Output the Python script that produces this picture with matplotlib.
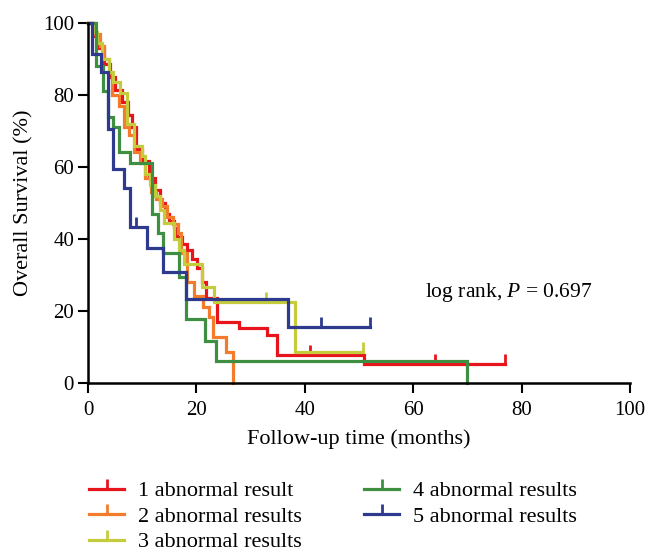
import matplotlib
matplotlib.use("Agg")
import matplotlib.pyplot as plt
from matplotlib.lines import Line2D

plt.rcParams['font.family'] = ['Liberation Serif', 'DejaVu Serif']
plt.rcParams['mathtext.fontset'] = 'custom'
plt.rcParams['mathtext.rm'] = 'Liberation Serif'
plt.rcParams['mathtext.it'] = 'Liberation Serif:italic'

# ---- data ----
labels = ["1 abnormal result", "2 abnormal results", "3 abnormal results",
          "4 abnormal results", "5 abnormal results"]
colors = ["#E8141C", "#F47B2B", "#C5CC3C", "#3F8F43", "#2E3A8E"]

red_t = [0, 1.0, 2.0, 3.0, 4.0, 5.0, 6.2, 7.4, 8.1, 8.8, 10.0, 11.2, 12.3, 13.3, 14.2,
         15.0, 15.8, 16.4, 17.3, 18.2, 19.2, 20.1, 21.0, 21.8, 23.8, 27.8, 33.0, 34.8, 51.0, 77.0]
red_s = [100, 96.5, 93, 88.5, 85, 81.5, 78, 74.5, 71, 65, 61.5, 57, 53.5, 50, 47,
         45, 43, 40.5, 38.5, 37, 34.5, 32, 28, 23.6, 16.8, 15.1, 13.2, 7.7, 5.3, 5.3]
red_cens_t = [11.2, 41.0, 64.0, 77.0]
red_cens_s = [57, 7.7, 5.3, 5.3]

orange_t = [0, 1.2, 2.2, 3.0, 3.8, 4.5, 5.7, 6.7, 7.5, 8.4, 9.6, 10.6, 11.6, 12.6, 13.6,
            14.6, 15.6, 16.6, 17.2, 18.2, 19.6, 21.3, 22.3, 23.0, 25.5, 26.8]
orange_s = [100, 97, 93.5, 90, 86, 80, 77, 71, 69, 64, 61, 57, 53, 51, 49,
            46, 44, 41.5, 36, 28, 24, 21, 18.4, 12.8, 8.4, 0]

yellow_t = [0, 1.0, 1.7, 2.6, 3.8, 4.7, 5.9, 7.2, 8.4, 9.9, 10.6, 11.5, 12.4, 13.2, 14.0,
            15.8, 16.7, 17.7, 21.0, 23.2, 38.2, 50.8]
yellow_s = [100, 97.5, 94.5, 90, 86.5, 83.7, 80.5, 72, 65.7, 63, 58, 55, 52, 48, 44.4,
            40, 37, 33, 26.7, 22.3, 8.5, 8.5]
yellow_cens_t = [32.8, 50.8]
yellow_cens_s = [22.3, 8.5]

green_t = [0, 1.5, 2.7, 3.6, 4.7, 5.7, 7.8, 11.8, 13.0, 13.8, 16.7, 18.0, 21.5, 23.6, 70.0]
green_s = [100, 88, 81, 74, 71, 64, 61, 47, 41.6, 36, 29.5, 17.6, 11.5, 6, 0]

blue_t = [0, 0.8, 2.4, 3.7, 4.6, 6.7, 7.8, 10.9, 13.8, 18.0, 36.9, 52.0]
blue_s = [100, 91.5, 86.5, 70.5, 59.5, 54, 43.3, 37.5, 30.8, 23.2, 15.5, 15.5]
blue_cens_t = [8.9, 43.0, 52.0]
blue_cens_s = [43.3, 15.5, 15.5]

xticks = [0, 20, 40, 60, 80, 100]
yticks = [0, 20, 40, 60, 80, 100]

# ---- figure ----
fig = plt.figure(figsize=(6.57, 5.58), dpi=100)
ax = fig.add_axes([88 / 657, 1 - 382.7 / 558, (630 - 88) / 657, (382.7 - 23) / 558])

series = [
    (red_t, red_s, red_cens_t, red_cens_s),
    (orange_t, orange_s, [], []),
    (yellow_t, yellow_s, yellow_cens_t, yellow_cens_s),
    (green_t, green_s, [], []),
    (blue_t, blue_s, blue_cens_t, blue_cens_s),
]
lw = 2.3
for (t, s, ct, cs), c in zip(series, colors):
    ax.step(t, s, where='post', color=c, lw=lw, solid_joinstyle='miter', clip_on=False)
    if ct:
        ax.plot(ct, cs, linestyle='none', marker=2, markersize=7, mew=2, color=c, clip_on=False)

ax.set_xlim(0, 100)
ax.set_ylim(0, 100)
ax.set_xticks(xticks)
ax.set_yticks(yticks)
for sp in ['top', 'right']:
    ax.spines[sp].set_visible(False)
for sp in ['left', 'bottom']:
    ax.spines[sp].set_linewidth(1.8)
ax.tick_params(axis='both', direction='out', length=7, width=1.5, labelsize=15)
ax.tick_params(axis='y', pad=3)
ax.tick_params(axis='x', pad=6)

ax.set_xlabel("Follow-up time (months)", fontsize=16, labelpad=7)
ax.set_ylabel("Overall Survival (%)", fontsize=16, labelpad=7)

ax.text(0.622, 0.238, "log rank, $\\mathit{P}$ = 0.697", transform=ax.transAxes, fontsize=15.5,
        ha='left', va='baseline')

handles = [Line2D([0], [0], color=c, lw=2.3, marker=2, markersize=7, mew=2) for c in colors]
fig.legend(handles, labels, loc='upper left', bbox_to_anchor=(80 / 657, 1 - 472 / 558),
           ncol=2, frameon=False, fontsize=16, handlelength=1.6, handletextpad=0.6,
           labelspacing=0.22, columnspacing=2.8, borderaxespad=0)

fig.savefig("out.png", dpi=100)
